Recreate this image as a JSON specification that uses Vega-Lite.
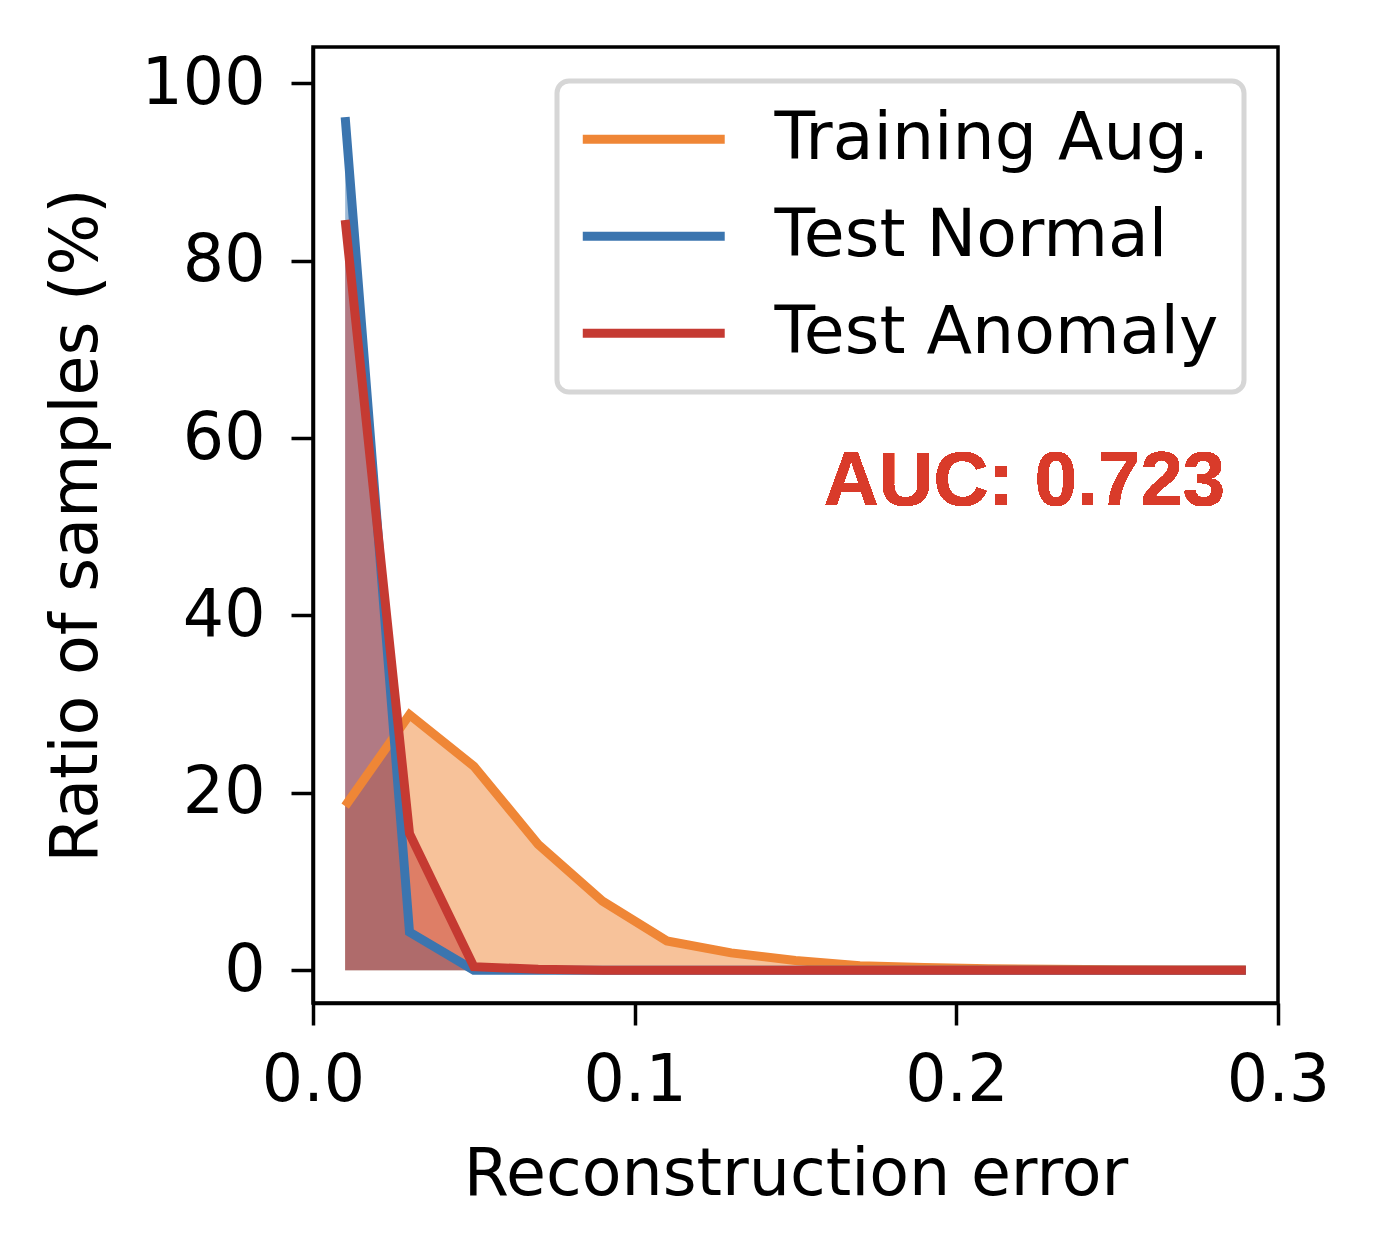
{
  "$schema": "https://vega.github.io/schema/vega-lite/v6.json",
  "autosize": "none",
  "padding": {"left": 313, "top": 47, "right": 102, "bottom": 253},
  "width": 965,
  "height": 956,
  "background": "white",
  "config": {
    "view": {"stroke": "black", "strokeWidth": 3.5},
    "font": "DejaVu Sans",
    "axis": {
      "grid": false,
      "domainColor": "black",
      "domainWidth": 3.5,
      "tickColor": "black",
      "tickWidth": 3.5,
      "tickSize": 22,
      "labelFlush": false,
      "labelFont": "DejaVu Sans",
      "labelFontSize": 65,
      "labelColor": "black",
      "titleFont": "DejaVu Sans",
      "titleFontSize": 65,
      "titleFontWeight": "normal",
      "titleColor": "black"
    }
  },
  "data": {
    "values": [
      {"err": 0.01, "series": "Training Aug.", "ratio": 18.5},
      {"err": 0.03, "series": "Training Aug.", "ratio": 28.8},
      {"err": 0.05, "series": "Training Aug.", "ratio": 23.0},
      {"err": 0.07, "series": "Training Aug.", "ratio": 14.2},
      {"err": 0.09, "series": "Training Aug.", "ratio": 7.8},
      {"err": 0.11, "series": "Training Aug.", "ratio": 3.3},
      {"err": 0.13, "series": "Training Aug.", "ratio": 1.95},
      {"err": 0.15, "series": "Training Aug.", "ratio": 1.1},
      {"err": 0.17, "series": "Training Aug.", "ratio": 0.5},
      {"err": 0.19, "series": "Training Aug.", "ratio": 0.3},
      {"err": 0.21, "series": "Training Aug.", "ratio": 0.15},
      {"err": 0.23, "series": "Training Aug.", "ratio": 0.1},
      {"err": 0.25, "series": "Training Aug.", "ratio": 0.05},
      {"err": 0.27, "series": "Training Aug.", "ratio": 0.02},
      {"err": 0.29, "series": "Training Aug.", "ratio": 0.01},
      {"err": 0.01, "series": "Test Normal", "ratio": 96.2},
      {"err": 0.03, "series": "Test Normal", "ratio": 4.3},
      {"err": 0.05, "series": "Test Normal", "ratio": 0.0},
      {"err": 0.07, "series": "Test Normal", "ratio": 0.0},
      {"err": 0.09, "series": "Test Normal", "ratio": 0.0},
      {"err": 0.11, "series": "Test Normal", "ratio": 0.0},
      {"err": 0.13, "series": "Test Normal", "ratio": 0.0},
      {"err": 0.15, "series": "Test Normal", "ratio": 0.0},
      {"err": 0.17, "series": "Test Normal", "ratio": 0.0},
      {"err": 0.19, "series": "Test Normal", "ratio": 0.0},
      {"err": 0.21, "series": "Test Normal", "ratio": 0.0},
      {"err": 0.23, "series": "Test Normal", "ratio": 0.0},
      {"err": 0.25, "series": "Test Normal", "ratio": 0.0},
      {"err": 0.27, "series": "Test Normal", "ratio": 0.0},
      {"err": 0.29, "series": "Test Normal", "ratio": 0.0},
      {"err": 0.01, "series": "Test Anomaly", "ratio": 84.6},
      {"err": 0.03, "series": "Test Anomaly", "ratio": 15.4},
      {"err": 0.05, "series": "Test Anomaly", "ratio": 0.4},
      {"err": 0.07, "series": "Test Anomaly", "ratio": 0.1},
      {"err": 0.09, "series": "Test Anomaly", "ratio": 0.0},
      {"err": 0.11, "series": "Test Anomaly", "ratio": 0.0},
      {"err": 0.13, "series": "Test Anomaly", "ratio": 0.0},
      {"err": 0.15, "series": "Test Anomaly", "ratio": 0.0},
      {"err": 0.17, "series": "Test Anomaly", "ratio": 0.0},
      {"err": 0.19, "series": "Test Anomaly", "ratio": 0.0},
      {"err": 0.21, "series": "Test Anomaly", "ratio": 0.0},
      {"err": 0.23, "series": "Test Anomaly", "ratio": 0.0},
      {"err": 0.25, "series": "Test Anomaly", "ratio": 0.0},
      {"err": 0.27, "series": "Test Anomaly", "ratio": 0.0},
      {"err": 0.29, "series": "Test Anomaly", "ratio": 0.0}
    ]
  },
  "encoding": {
    "x": {
      "field": "err",
      "type": "quantitative",
      "title": "Reconstruction error",
      "scale": {"domain": [0, 0.3], "nice": false, "zero": false},
      "axis": {"values": [0, 0.1, 0.2, 0.3], "format": ".1f", "labelPadding": 24, "titlePadding": 30}
    },
    "y": {
      "field": "ratio",
      "type": "quantitative",
      "title": "Ratio of samples (%)",
      "scale": {"domain": [-3.7, 104.1], "nice": false, "zero": false},
      "axis": {"values": [0, 20, 40, 60, 80, 100], "labelPadding": 26, "titlePadding": 30}
    }
  },
  "layer": [
    {
      "mark": {"type": "area", "opacity": 0.5},
      "encoding": {
        "color": {
          "field": "series",
          "type": "nominal",
          "scale": {"domain": ["Training Aug.", "Test Normal", "Test Anomaly"], "range": ["#ef8636", "#3b75af", "#c53a32"]},
          "legend": {
            "title": null,
            "orient": "top-right",
            "offset": 34,
            "padding": 25,
            "cornerRadius": 12,
            "strokeColor": "#d6d6d6",
            "fillColor": "white",
            "symbolType": "M-1.16,0H3.91",
            "symbolSize": 3136,
            "symbolStrokeWidth": 9,
            "symbolOpacity": 1,
            "labelFont": "DejaVu Sans",
            "labelFontSize": 66.5,
            "labelColor": "black",
            "labelLimit": 1000,
            "labelOffset": 126,
            "rowPadding": 30,
            "encode": {
              "legend": {"update": {"strokeWidth": {"value": 5}}},
              "symbols": {
                "update": {
                  "stroke": {"scale": "color", "field": "value"},
                  "strokeWidth": {"value": 9},
                  "fill": {"value": "transparent"},
                  "opacity": {"value": 1}
                }
              }
            }
          }
        },
        "y2": {"datum": 0}
      }
    },
    {
      "mark": {"type": "line", "strokeWidth": 9, "strokeJoin": "miter", "strokeCap": "butt"},
      "encoding": {
        "color": {
          "field": "series",
          "type": "nominal",
          "scale": {"domain": ["Training Aug.", "Test Normal", "Test Anomaly"], "range": ["#ef8636", "#3b75af", "#c53a32"]}
        }
      }
    },
    {
      "mark": {
        "type": "text",
        "text": "AUC: 0.723",
        "font": "Liberation Sans",
        "fontWeight": "bold",
        "fontSize": 76,
        "color": "#d93b2a",
        "align": "right",
        "baseline": "alphabetic"
      },
      "encoding": {
        "x": {"datum": 0.2835},
        "y": {"datum": 52.5}
      }
    }
  ]
}
